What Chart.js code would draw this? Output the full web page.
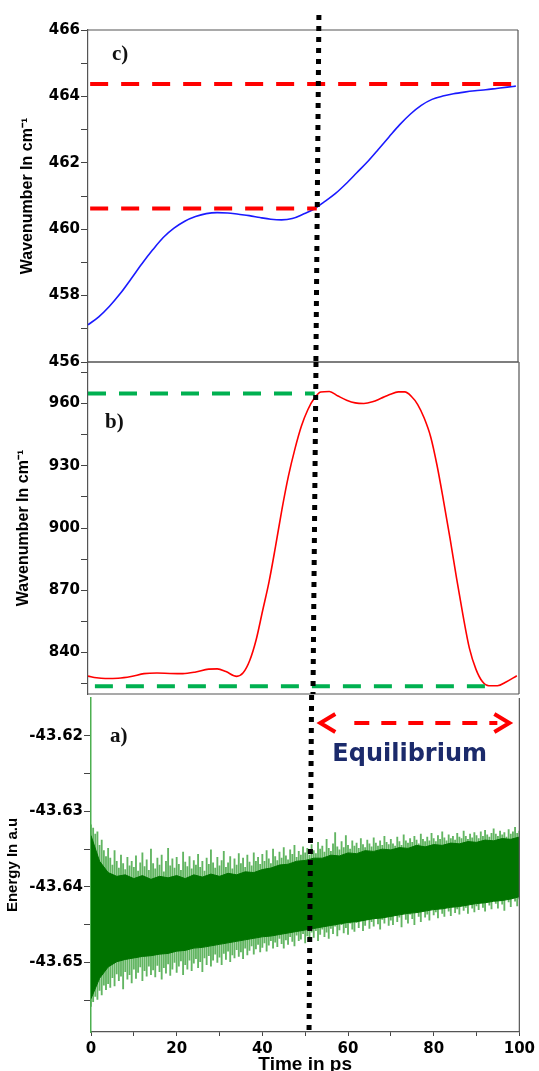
<!DOCTYPE html>
<html>
<head>
<meta charset="utf-8">
<script src="https://cdn.jsdelivr.net/npm/chart.js@4.4.1/dist/chart.umd.min.js"></script>
<style>
  html, body { margin: 0; padding: 0; background: #fff; }
  #wrap { position: relative; width: 539px; height: 1071px; overflow: hidden; }
  canvas { position: absolute; left: 0; }
</style>
</head>
<body>
<div id="wrap">
  <canvas id="panelC" width="539" height="372" style="top:0"></canvas>
  <canvas id="panelB" width="539" height="352" style="top:352px"></canvas>
  <canvas id="panelA" width="539" height="383" style="top:688px"></canvas>
</div>
<script>
// c) low-frequency mode
const waveTimeC = [0, 2.5, 5, 7.5, 10, 12.5, 15, 17.5, 20, 22.5, 25, 27.5, 30, 32.5, 35, 37.5, 40, 42.5, 45, 47.5,
  50, 52.5, 55, 57.5, 60, 62.5, 65, 67.5, 70, 72.5, 75, 77.5, 80, 82.5, 85, 87.5, 90, 92.5, 95, 97.5, 99.5];
const waveC = [457.12, 457.36, 457.68, 458.06, 458.5, 458.95, 459.37, 459.75, 460.03, 460.24, 460.38, 460.47, 460.5,
  460.49, 460.45, 460.41, 460.35, 460.3, 460.28, 460.32, 460.45, 460.6, 460.83, 461.07, 461.37, 461.7, 462.03, 462.4,
  462.78, 463.15, 463.47, 463.73, 463.91, 464.01, 464.08, 464.13, 464.17, 464.2, 464.24, 464.28, 464.31];
const levelsC = [464.37, 460.62];
const levelSpansC = [[0.5, 99], [0.5, 53.2]];
const majorTicksC = [456, 458, 460, 462, 464, 466];
const minorTicksC = [457, 459, 461, 463, 465];

// b) high-frequency mode
const waveTimeB = [0, 2, 4, 7, 10, 13, 16, 19, 22, 25, 28, 30, 32, 34.5, 36, 37.5, 39, 40.5, 42, 43.5, 45, 46.5, 48,
  49.5, 51, 52.5, 54, 56, 58, 60, 62, 64, 66, 68, 70, 72, 73.5, 75, 76.5, 78, 79.5, 81, 82.5, 84, 85.5, 87, 88.5, 90,
  91.5, 93, 95, 97, 99.5];
const waveB = [828.6, 827.8, 827.5, 827.6, 828.4, 829.8, 830.1, 829.9, 829.8, 830.6, 832, 832.1, 830.8, 828.5, 830.2,
  836, 846, 860, 874, 891, 909, 925, 938, 949, 957, 962.5, 965.5, 965.8, 963.6, 961.6, 960.3, 960, 960.8, 962.5,
  964.3, 965.6, 965.6, 963.5, 959.5, 953, 944, 930, 913, 895, 876, 858, 842, 832, 826, 824, 824, 825.8, 828.8];
const levelsB = [964.8, 823.7];
const levelSpansB = [[0, 52.6], [1.6, 92.6]];
const majorTicksB = [840, 870, 900, 930, 960];
const minorTicksB = [825, 855, 885, 915, 945, 975];

// a) total energy, spike extremes every 0.5 ps
const SPIKE_STEP = 0.5;
const spikeHigh = [
  -43.6318, -43.6322, -43.6330, -43.6327, -43.6345, -43.6338, -43.6352, -43.6360, -43.6349, -43.6362,
  -43.6371, -43.6352, -43.6366, -43.6375, -43.6358, -43.6369, -43.6377, -43.6361, -43.6372, -43.6366,
  -43.6374, -43.6359, -43.6379, -43.6368, -43.6355, -43.6373, -43.6364, -43.6378, -43.6350, -43.6369,
  -43.6376, -43.6362, -43.6371, -43.6358, -43.6380, -43.6366, -43.6349, -43.6372, -43.6363, -43.6375,
  -43.6361, -43.6370, -43.6378, -43.6354, -43.6367, -43.6373, -43.6360, -43.6376, -43.6365, -43.6371,
  -43.6357, -43.6374, -43.6366, -43.6379, -43.6362, -43.6370, -43.6351, -43.6368, -43.6375, -43.6361,
  -43.6372, -43.6365, -43.6353, -43.6374, -43.6368, -43.6360, -43.6376, -43.6363, -43.6371, -43.6356,
  -43.6369, -43.6362, -43.6374, -43.6358, -43.6367, -43.6372, -43.6355, -43.6366, -43.6361, -43.6370,
  -43.6357, -43.6366, -43.6352, -43.6363, -43.6369, -43.6350, -43.6360, -43.6365, -43.6354, -43.6362,
  -43.6348, -43.6359, -43.6364, -43.6351, -43.6357, -43.6345, -43.6361, -43.6353, -43.6358, -43.6347,
  -43.6355, -43.6349, -43.6358, -43.6344, -43.6352, -43.6356, -43.6341, -43.6350, -43.6346, -43.6354,
  -43.6337, -43.6349, -43.6353, -43.6343, -43.6328, -43.6347, -43.6351, -43.6340, -43.6348, -43.6332,
  -43.6345, -43.6350, -43.6339, -43.6346, -43.6342, -43.6349, -43.6336, -43.6344, -43.6348, -43.6338,
  -43.6343, -43.6347, -43.6335, -43.6342, -43.6346, -43.6339, -43.6345, -43.6333, -43.6341, -43.6344,
  -43.6337, -43.6343, -43.6346, -43.6334, -43.6340, -43.6345, -43.6331, -43.6339, -43.6342, -43.6336,
  -43.6341, -43.6333, -43.6338, -43.6343, -43.6330, -43.6337, -43.6340, -43.6334, -43.6339, -43.6329,
  -43.6336, -43.6340, -43.6332, -43.6337, -43.6327, -43.6335, -43.6339, -43.6331, -43.6336, -43.6333,
  -43.6338, -43.6329, -43.6334, -43.6336, -43.6326, -43.6333, -43.6337, -43.6330, -43.6335, -43.6328,
  -43.6332, -43.6336, -43.6327, -43.6333, -43.6325, -43.6331, -43.6334, -43.6329, -43.6323, -43.6330,
  -43.6333, -43.6326, -43.6331, -43.6328, -43.6334, -43.6324, -43.6330, -43.6327, -43.6321, -43.6329,
  -43.6326
];
const spikeLow = [
  -43.6558, -43.6552, -43.6545, -43.6549, -43.6537, -43.6543, -43.6530, -43.6536, -43.6528, -43.6533,
  -43.6520, -43.6531, -43.6515, -43.6524, -43.6518, -43.6535, -43.6512, -43.6522, -43.6516, -43.6527,
  -43.6509, -43.6521, -43.6513, -43.6506, -43.6524, -43.6511, -43.6518, -43.6505, -43.6516, -43.6510,
  -43.6519, -43.6504, -43.6512, -43.6522, -43.6507, -43.6514, -43.6502, -43.6517, -43.6509, -43.6500,
  -43.6513, -43.6505, -43.6498, -43.6516, -43.6503, -43.6509, -43.6497, -43.6511, -43.6501, -43.6495,
  -43.6507, -43.6499, -43.6512, -43.6494, -43.6503, -43.6491, -43.6505, -43.6497, -43.6489, -43.6500,
  -43.6493, -43.6503, -43.6488, -43.6496, -43.6485, -43.6499, -43.6490, -43.6494, -43.6483, -43.6492,
  -43.6486, -43.6495, -43.6481, -43.6490, -43.6484, -43.6478, -43.6489, -43.6482, -43.6476, -43.6486,
  -43.6480, -43.6474, -43.6485, -43.6477, -43.6471, -43.6481, -43.6473, -43.6479, -43.6468, -43.6475,
  -43.6481, -43.6470, -43.6476, -43.6466, -43.6472, -43.6478, -43.6464, -43.6471, -43.6469, -43.6462,
  -43.6474, -43.6465, -43.6470, -43.6460, -43.6467, -43.6458, -43.6471, -43.6463, -43.6456, -43.6466,
  -43.6460, -43.6468, -43.6455, -43.6462, -43.6452, -43.6465, -43.6457, -43.6450, -43.6461, -43.6454,
  -43.6463, -43.6448, -43.6456, -43.6459, -43.6447, -43.6454, -43.6445, -43.6458, -43.6451, -43.6443,
  -43.6455, -43.6446, -43.6452, -43.6441, -43.6449, -43.6456, -43.6443, -43.6448, -43.6439, -43.6451,
  -43.6444, -43.6450, -43.6437, -43.6446, -43.6440, -43.6453, -43.6435, -43.6443, -43.6448, -43.6436,
  -43.6442, -43.6450, -43.6434, -43.6439, -43.6446, -43.6431, -43.6440, -43.6436, -43.6444, -43.6429,
  -43.6437, -43.6433, -43.6441, -43.6428, -43.6435, -43.6439, -43.6426, -43.6432, -43.6438, -43.6424,
  -43.6434, -43.6429, -43.6436, -43.6422, -43.6431, -43.6427, -43.6435, -43.6420, -43.6428, -43.6433,
  -43.6425, -43.6430, -43.6419, -43.6427, -43.6432, -43.6417, -43.6424, -43.6429, -43.6415, -43.6422,
  -43.6428, -43.6418, -43.6423, -43.6431, -43.6414, -43.6420, -43.6426, -43.6412, -43.6419, -43.6425,
  -43.6416
];
// dense core of the trace every 2 ps
const CORE_STEP = 2;
const coreHigh = [-43.6332, -43.6366, -43.6381, -43.6386, -43.6384, -43.6389, -43.6385, -43.6390, -43.6386, -43.6388,
  -43.6385, -43.6389, -43.6384, -43.6387, -43.6383, -43.6386, -43.6382, -43.6384, -43.6380, -43.6381, -43.6377,
  -43.6375, -43.6371, -43.6370, -43.6366, -43.6365, -43.6362, -43.6362, -43.6358, -43.6359, -43.6355, -43.6356,
  -43.6352, -43.6353, -43.6350, -43.6351, -43.6348, -43.6349, -43.6345, -43.6347, -43.6344, -43.6345, -43.6342,
  -43.6343, -43.6340, -43.6341, -43.6338, -43.6339, -43.6336, -43.6337, -43.6334];
const coreLow = [-43.6548, -43.6521, -43.6506, -43.6499, -43.6496, -43.6494, -43.6492, -43.6491, -43.6489, -43.6488,
  -43.6485, -43.6484, -43.6481, -43.6480, -43.6478, -43.6476, -43.6474, -43.6472, -43.6470, -43.6468, -43.6466,
  -43.6465, -43.6463, -43.6461, -43.6459, -43.6457, -43.6455, -43.6453, -43.6451, -43.6449, -43.6447, -43.6446,
  -43.6444, -43.6442, -43.6441, -43.6439, -43.6437, -43.6435, -43.6434, -43.6432, -43.6430, -43.6429, -43.6427,
  -43.6426, -43.6424, -43.6422, -43.6421, -43.6419, -43.6418, -43.6416, -43.6413];
const majorTicksA = [-43.65, -43.64, -43.63, -43.62];
const minorTicksA = [-43.655, -43.645, -43.635, -43.625];
const timeTicks = [0, 20, 40, 60, 80, 100];
const minorTimeTicks = [10, 30, 50, 70, 90];

// equilibrium marker (time at top / bottom of each panel) and the arrow span
const markerC = [53.7, 53.0];
const markerB = [52.9, 52.2];
const markerA = [51.5, 50.9];
const equilibriumSpan = [53.3, 97.9];

Chart.defaults.animation = false;
Chart.defaults.events = [];
Chart.defaults.color = '#000';
Chart.defaults.font.family = '"Liberation Sans", Arial, sans-serif';

const tickFont = { family: '"DejaVu Sans"', weight: 'bold', size: 15 };

const panelDecor = {
  id: 'panelDecor',
  afterDatasetsDraw(chart, args, o) {
    const { ctx, chartArea: a, scales: { x } } = chart;
    ctx.save();
    ctx.strokeStyle = '#555';
    ctx.lineWidth = 1.2;
    ctx.beginPath();
    if (o.sides.includes('top')) { ctx.moveTo(a.left, a.top); ctx.lineTo(a.right, a.top); }
    if (o.sides.includes('right')) { ctx.moveTo(a.right, a.top); ctx.lineTo(a.right, a.bottom); }
    if (o.sides.includes('bottom')) { ctx.moveTo(a.left, a.bottom); ctx.lineTo(a.right, a.bottom); }
    ctx.stroke();

    ctx.fillStyle = '#111';
    ctx.font = 'bold 21px "Liberation Serif"';
    ctx.fillText(o.letter, a.left + o.letterAt[0], a.top + o.letterAt[1]);

    // dotted vertical line
    ctx.strokeStyle = '#000';
    ctx.lineWidth = 5;
    ctx.setLineDash([5, 6]);
    ctx.beginPath();
    ctx.moveTo(x.getPixelForValue(o.marker[0]), a.top - o.markerAbove);
    ctx.lineTo(x.getPixelForValue(o.marker[1]), a.bottom);
    ctx.stroke();
    ctx.restore();
  }
};

const equilibriumNote = {
  id: 'equilibriumNote',
  afterDatasetsDraw(chart, args, o) {
    const { ctx, scales: { x, y } } = chart;
    const x1 = x.getPixelForValue(o.span[0]);
    const x2 = x.getPixelForValue(o.span[1]);
    const yy = y.getPixelForValue(o.level);
    ctx.save();
    ctx.strokeStyle = '#ff0000';
    ctx.lineWidth = 4;
    ctx.setLineDash([15, 12]);
    ctx.beginPath();
    ctx.moveTo(x1 + 35, yy);
    ctx.lineTo(x2 - 13, yy);
    ctx.stroke();
    ctx.setLineDash([]);
    ctx.beginPath();
    ctx.moveTo(x1 + 16, yy - 9); ctx.lineTo(x1 + 1, yy); ctx.lineTo(x1 + 16, yy + 9);
    ctx.moveTo(x2 - 16, yy - 9); ctx.lineTo(x2 - 1, yy); ctx.lineTo(x2 - 16, yy + 9);
    ctx.stroke();
    ctx.fillStyle = '#1b2a6b';
    ctx.font = 'bold 24px "DejaVu Sans"';
    ctx.textAlign = 'center';
    ctx.fillText(o.text, x.getPixelForValue(o.textAt[0]), y.getPixelForValue(o.textAt[1]));
    ctx.restore();
  }
};

function yAxis(min, max, major, minor, width, fmt, title, titleSize, titlePad, borderColor) {
  return {
    min, max,
    afterBuildTicks: s => { s.ticks = [...minor, ...major].sort((p, q) => p - q).map(v => ({ value: v })); },
    afterFit: s => { s.width = width; },
    ticks: {
      autoSkip: false,
      padding: 1,
      font: tickFont,
      color: '#000',
      callback: v => major.includes(v) ? fmt(v) : ''
    },
    grid: { drawOnChartArea: false, tickLength: 7, color: '#444' },
    border: { color: borderColor || '#555', width: borderColor ? 1.5 : 1.2 },
    title: {
      display: true, text: title, color: '#000',
      font: { weight: 'bold', size: titleSize },
      padding: { top: titlePad, bottom: 0 }
    }
  };
}

function hiddenX() {
  return { type: 'linear', min: 0, max: 100, display: false };
}

function levelLine(level, span, color) {
  return {
    data: [{ x: span[0], y: level }, { x: span[1], y: level }],
    borderColor: color, borderWidth: 4, borderDash: [18, 13], borderCapStyle: 'butt',
    pointRadius: 0, fill: false
  };
}

// panel c
new Chart(document.getElementById('panelC'), {
  type: 'line',
  data: {
    datasets: [
      ...levelsC.map((v, i) => levelLine(v, levelSpansC[i], '#ff0000')),
      {
        data: waveTimeC.map((t, i) => ({ x: t, y: waveC[i] })),
        borderColor: '#1a1aff', borderWidth: 1.6, pointRadius: 0,
        cubicInterpolationMode: 'monotone'
      }
    ]
  },
  options: {
    responsive: false,
    devicePixelRatio: 1,
    layout: { padding: { top: 30, bottom: 10, left: 0, right: 21 } },
    plugins: {
      legend: { display: false }, tooltip: { enabled: false },
      panelDecor: { sides: ['top', 'right', 'bottom'], letter: 'c)', letterAt: [24, 30], marker: markerC, markerAbove: 15 }
    },
    scales: {
      x: hiddenX(),
      y: yAxis(456, 466, majorTicksC, minorTicksC, 88, v => String(v), 'Wavenumber In cm\u207B\u00B9', 16, 18)
    }
  },
  plugins: [panelDecor]
});

// panel b
new Chart(document.getElementById('panelB'), {
  type: 'line',
  data: {
    datasets: [
      ...levelsB.map((v, i) => levelLine(v, levelSpansB[i], '#00b050')),
      {
        data: waveTimeB.map((t, i) => ({ x: t, y: waveB[i] })),
        borderColor: '#ff0000', borderWidth: 1.6, pointRadius: 0,
        cubicInterpolationMode: 'monotone'
      }
    ]
  },
  options: {
    responsive: false,
    devicePixelRatio: 1,
    layout: { padding: { top: 10, bottom: 9, left: 0, right: 20 } },
    plugins: {
      legend: { display: false }, tooltip: { enabled: false },
      panelDecor: { sides: ['top', 'right', 'bottom'], letter: 'b)', letterAt: [17, 66], marker: markerB, markerAbove: 0 }
    },
    scales: {
      x: hiddenX(),
      y: yAxis(820, 980, majorTicksB, minorTicksB, 88, v => String(v), 'Wavenumber In cm\u207B\u00B9', 16, 14)
    }
  },
  plugins: [panelDecor]
});

// panel a
new Chart(document.getElementById('panelA'), {
  type: 'bar',
  data: {
    datasets: [
      {
        type: 'line', order: 1,
        data: coreLow.map((v, i) => ({ x: i * CORE_STEP, y: v })),
        borderColor: '#007400', borderWidth: 1, pointRadius: 0, tension: 0, fill: false
      },
      {
        type: 'line', order: 1,
        data: coreHigh.map((v, i) => ({ x: i * CORE_STEP, y: v })),
        borderColor: '#007400', borderWidth: 1, pointRadius: 0, tension: 0,
        fill: '-1', backgroundColor: '#007400'
      },
      {
        type: 'bar', order: 2,
        data: spikeHigh.map((hi, i) => ({ x: i * SPIKE_STEP, y: [spikeLow[i], hi] })),
        backgroundColor: '#62b562', barThickness: 1.2, borderWidth: 0
      }
    ]
  },
  options: {
    responsive: false,
    devicePixelRatio: 1,
    layout: { padding: { top: 10, bottom: 0, left: 0, right: 17 } },
    plugins: {
      legend: { display: false }, tooltip: { enabled: false },
      panelDecor: { sides: ['right'], letter: 'a)', letterAt: [19, 44], marker: markerA, markerAbove: 3 },
      equilibriumNote: { span: equilibriumSpan, level: -43.6183, text: 'Equilibrium', textAt: [74.4, -43.6234] }
    },
    scales: {
      x: {
        type: 'linear', min: 0, max: 100, offset: false,
        afterBuildTicks: s => { s.ticks = [...timeTicks, ...minorTimeTicks].sort((p, q) => p - q).map(v => ({ value: v })); },
        afterFit: s => { s.height = 39; },
        ticks: {
          autoSkip: false, maxRotation: 0, padding: 4, font: tickFont, color: '#000',
          callback: v => timeTicks.includes(v) ? String(v) : ''
        },
        grid: { drawOnChartArea: false, offset: false, tickLength: 4, color: '#444' },
        border: { color: '#555', width: 1.2 },
        title: {
          display: true, text: 'Time in ps', color: '#000',
          font: { weight: 'bold', size: 19, lineHeight: 1 },
          padding: { top: 0, bottom: -3 }
        }
      },
      y: yAxis(-43.6592, -43.615, majorTicksA, minorTicksA, 91, v => v.toFixed(2), 'Energy In a.u', 15, 4, '#4caf50')
    }
  },
  plugins: [panelDecor, equilibriumNote]
});
</script>
</body>
</html>
